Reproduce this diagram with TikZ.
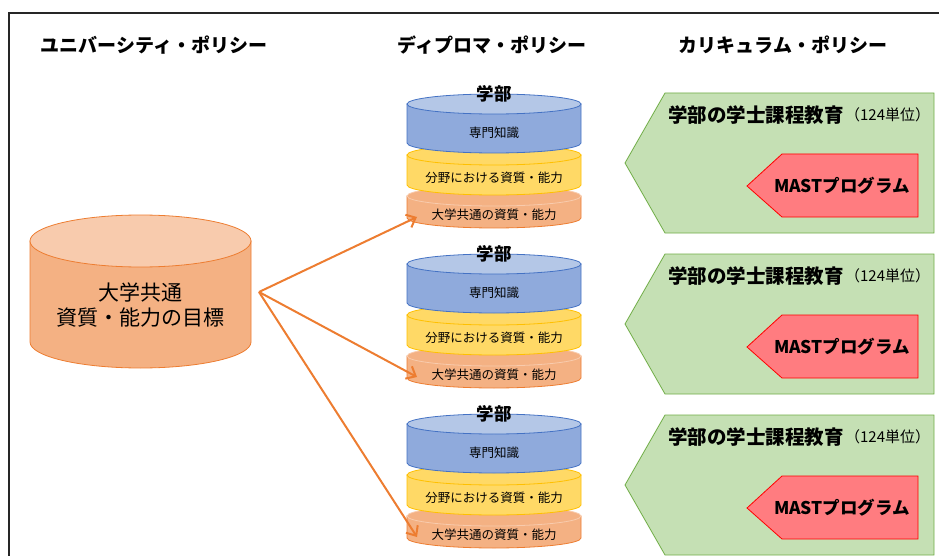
\documentclass[tikz,border=0pt]{standalone}
\usepackage{fontspec}
\setmainfont{Noto Sans CJK JP}
\usetikzlibrary{arrows.meta,positioning}
\definecolor{frameblack}{HTML}{262626}
\definecolor{ugline}{HTML}{ED7D31}
\definecolor{ugbody}{HTML}{F4B183}
\definecolor{ugtop}{HTML}{F8CBAD}
\definecolor{spline}{HTML}{4472C4}
\definecolor{spbody}{HTML}{8FAADC}
\definecolor{sptop}{HTML}{B4C7E7}
\definecolor{fdline}{HTML}{FFC000}
\definecolor{fdbody}{HTML}{FFD966}
\definecolor{cpline}{HTML}{70AD47}
\definecolor{cpfill}{HTML}{C5E0B4}
\definecolor{mastline}{HTML}{FF0000}
\definecolor{mastfill}{HTML}{FF7C80}
\tikzset{
  cyl/.style 2 args={draw=#1,fill=#2,line width=0.8pt},
  head/.style={font=\bfseries\fontsize{19}{23}\selectfont},
  dept/.style={font=\bfseries\fontsize{17.5}{21}\selectfont,inner sep=0pt},
  bigtxt/.style={font=\fontsize{21}{25}\selectfont,align=center},
  bandtxt/.style={font=\fontsize{12.5}{15}\selectfont,inner sep=1pt},
  cpbox/.style={draw=cpline,fill=cpfill,line width=0.8pt},
  cptitle/.style={font=\bfseries\fontsize{19.5}{23}\selectfont,inner sep=0pt},
  cpunit/.style={font=\fontsize{15}{18}\selectfont,inner sep=0pt},
  mastbox/.style={draw=mastline,fill=mastfill,line width=0.8pt},
  masttxt/.style={font=\bfseries\fontsize{17.5}{21}\selectfont},
  arr/.style={-{Straight Barb[length=8pt,width=14pt]},line width=2pt,ugline},
}
\begin{document}
\begin{tikzpicture}[x=1pt,y=-1pt]
  \useasboundingbox (0,0) rectangle (939,556);
  \clip (0,0) rectangle (939,556);
  \draw[line width=2pt,frameblack] (8.5,13.5) rectangle (960,580);

  % headings
  \node[head] (hup) at (154,45) {ユニバーシティ・ポリシー};
  \node[head] (hdp) at (492,45) {ディプロマ・ポリシー};
  \node[head] (hcp) at (783,45) {カリキュラム・ポリシー};

  % university policy cylinder
  \path[cyl={ugline}{ugbody}] (30,241) -- (30,342)
        arc[start angle=180,end angle=0,x radius=110.5,y radius=26]
        -- (251,241) -- cycle;
  \path[cyl={ugline}{ugtop}] (140.5,241) ellipse[x radius=110.5,y radius=26];
  \node[bigtxt] (ug) at (140,305) {大学共通\\資質・能力の目標};
  \coordinate (ugout) at (259,292);

  % diploma policy stacks
  \foreach \i in {0,1,2}{
    \begin{scope}[shift={(0,{160*\i})}]
      \path[cyl={ugline}{ugbody}] (407,196) -- (407,218)
            arc[start angle=180,end angle=0,x radius=87,y radius=10]
            -- (581,196) -- cycle;
      \path[cyl={ugtop}{ugbody}] (494,196) ellipse[x radius=87,y radius=10];
      \path[cyl={fdline}{fdbody}] (407,155) -- (407,185)
            arc[start angle=180,end angle=0,x radius=87,y radius=10]
            -- (581,155) -- cycle;
      \path[cyl={fdline}{fdbody}] (494,155) ellipse[x radius=87,y radius=10];
      \path[cyl={spline}{spbody}] (407,104) -- (407,143)
            arc[start angle=180,end angle=0,x radius=87,y radius=10]
            -- (581,104) -- cycle;
      \path[cyl={spline}{sptop}] (494,104) ellipse[x radius=87,y radius=10];
      \node[dept] (dep\i) at (494,94) {学部};
      \node[bandtxt] (sp\i) at (494,133) {専門知識};
      \node[bandtxt] (fd\i) at (494,178) {分野における資質・能力};
      \node[bandtxt] (gen\i) at (494,215) {大学共通の資質・能力};
      \coordinate (in\i) at (417,217);
    \end{scope}
  }

  % curriculum policy
  \foreach \i in {0,1,2}{
    \begin{scope}[shift={(0,{161*\i})}]
      \draw[cpbox] (625,163) -- (665,93) -- (934,93) -- (934,233)
            -- (665,233) -- cycle;
      \node[cptitle,anchor=west] (cp\i) at (668,115) {学部の学士課程教育};
      \node[cpunit,right=1pt of cp\i] (cu\i) {（124単位）};
      \draw[mastbox] (747,186) -- (782,154) -- (918,154) -- (918,217)
            -- (782,217) -- cycle;
      \node[masttxt] (mast\i) at (842,186) {MASTプログラム};
    \end{scope}
  }

  \foreach \i in {0,1,2}
    \draw[arr] (ugout) -- (in\i);
\end{tikzpicture}
\end{document}
